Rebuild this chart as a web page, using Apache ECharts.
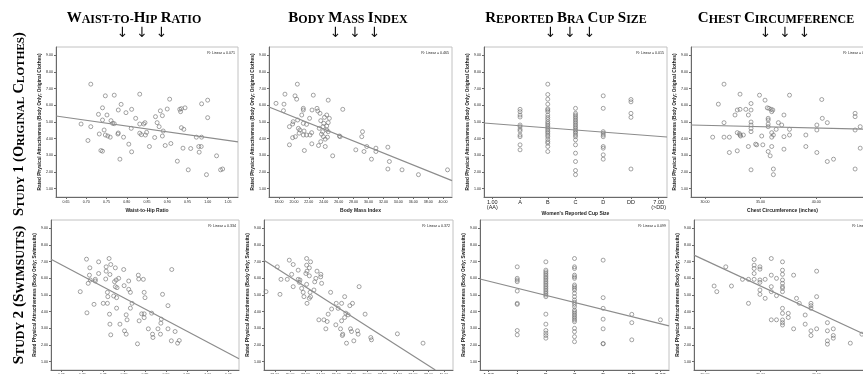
<!DOCTYPE html>
<html>
<head>
<meta charset="utf-8">
<script src="https://cdn.jsdelivr.net/npm/echarts@6/dist/echarts.min.js"></script>
<style>
html, body { margin: 0; padding: 0; background: #fff; }
#chart { width: 863px; height: 374px; }
</style>
</head>
<body>
<div id="chart"></div>
<script>
// tick values
const yTicks = [1, 2, 3, 4, 5, 6, 7, 8, 9];
const whrTicks = [0.65, 0.70, 0.75, 0.80, 0.85, 0.90, 0.95, 1.00, 1.05];
const bmiTicks = [18, 20, 22, 24, 26, 28, 30, 32, 34, 36, 38, 40];
const cupTicks = [1, 2, 3, 4, 5, 6, 7];
const cupLabels = ['1.00\n(AA)', 'A', 'B', 'C', 'D', 'DD', '7.00\n(>DD)'];
const chestTicks = [30, 35, 40, 45];

const xNames = ['Waist-to-Hip Ratio', 'Body Mass Index', "Women's Reported Cup Size", 'Chest Circumference (inches)'];
const yNames = ['Rated Physical Attractiveness (Body Only; Original Clothes)', 'Rated Physical Attractiveness (Body Only; Swimsuits)'];
const r2Orig = ['0.071', '0.465', '0.015', '0.006'];
const r2Swim = ['0.334', '0.372', '0.099', '0.326'];

// study 1, original clothes
const whrOrig = [[0.711,7.27],[0.747,6.57],[0.769,6.61],[0.832,6.67],[0.906,6.37],[0.786,6.06],[0.74,5.85],[0.779,5.72],[0.812,5.76],[0.798,5.56],[0.751,5.42],[0.73,5.46],[0.74,5.12],[0.761,5.08],[0.765,4.92],[0.769,4.9],[0.687,4.88],[0.711,4.72],[0.744,4.52],[0.747,4.22],[0.732,4.28],[0.753,4.16],[0.759,4.09],[0.778,4.28],[0.779,4.34],[0.792,4.09],[0.811,4.62],[0.822,5.22],[0.832,4.88],[0.842,4.88],[0.845,4.96],[0.832,4.33],[0.836,4.24],[0.846,4.22],[0.849,4.38],[0.871,5.32],[0.875,4.96],[0.88,4.72],[0.89,4.46],[0.883,5.67],[0.888,5.38],[0.9,5.78],[0.869,4.07],[0.888,4.16],[0.704,3.89],[0.805,3.67],[0.856,3.53],[0.895,3.59],[0.909,3.71],[0.736,3.29],[0.74,3.25],[0.812,3.21],[0.783,2.77],[0.931,5.76],[0.935,5.8],[0.944,5.85],[0.933,5.62],[0.935,4.66],[0.941,4.56],[0.985,6.09],[1.0,6.31],[1.0,5.26],[0.972,4.09],[0.985,4.09],[0.978,3.53],[0.984,3.53],[0.958,3.41],[0.939,3.43],[0.979,3.19],[0.925,2.65],[0.952,2.13],[0.997,1.84],[1.022,2.97],[1.032,2.13],[1.037,2.18]];
const bmiOrig = [[20.46,7.27],[18.8,6.67],[20.15,6.57],[20.37,6.37],[22.6,6.61],[24.6,6.31],[17.6,6.12],[18.67,6.07],[21.26,5.82],[21.26,5.72],[22.43,5.72],[23.1,5.82],[23.2,5.66],[23.5,5.52],[18.6,5.68],[26.55,5.76],[21.05,5.42],[24.4,5.42],[24.75,5.22],[22.1,5.22],[24.1,5.28],[19.9,5.02],[20.5,5.12],[21.26,4.92],[21.7,4.86],[23.6,5.08],[24.0,4.92],[24.6,4.96],[24.4,4.76],[23.9,4.72],[19.83,4.88],[19.4,4.72],[20.6,4.62],[20.8,4.52],[21.36,4.46],[23.4,4.62],[23.85,4.42],[24.4,4.52],[24.6,4.42],[20.7,4.33],[21.26,4.22],[21.7,4.22],[22.16,4.22],[22.38,4.36],[20.2,4.12],[19.83,4.06],[23.7,4.27],[23.95,4.12],[24.2,3.97],[24.5,4.09],[26.1,4.16],[26.2,4.12],[23.6,3.82],[19.4,3.63],[22.4,3.69],[23.3,3.59],[24.2,3.53],[21.4,3.29],[25.2,2.97],[29.2,4.42],[29.1,4.12],[28.3,3.33],[29.4,3.23],[29.77,3.53],[31.0,3.43],[31.0,3.23],[30.4,2.77],[32.6,3.49],[32.8,2.63],[32.6,2.18],[34.5,2.13],[36.7,1.84],[40.6,2.13]];
const cupOrig = [[2,5.76],[2,5.62],[2,5.42],[2,5.3],[2,4.82],[2,4.72],[2,4.56],[2,4.46],[2,4.22],[2,4.12],[2,3.63],[2,3.33],
  [3,7.27],[3,6.65],[3,6.37],[3,6.07],[3,5.79],[3,5.72],[3,5.62],[3,5.42],[3,5.28],[3,5.16],[3,5.02],[3,4.92],[3,4.82],[3,4.72],[3,4.62],[3,4.52],[3,4.42],[3,4.33],[3,4.22],[3,4.12],[3,3.97],[3,3.82],[3,3.73],[3,3.53],[3,3.23],
  [4,5.82],[4,5.52],[4,5.42],[4,5.32],[4,5.22],[4,5.12],[4,5.02],[4,4.92],[4,4.82],[4,4.72],[4,4.62],[4,4.52],[4,4.42],[4,4.33],[4,4.22],[4,4.12],[4,3.93],[4,3.63],[4,3.13],[4,2.63],[4,2.09],[4,1.84],
  [5,6.57],[5,5.82],[5,4.42],[5,4.33],[5,4.22],[5,4.12],[5,3.53],[5,3.43],[5,3.03],[5,2.77],
  [6,6.35],[6,6.21],[6,5.52],[6,5.28],[6,2.18]];
const chestOrig = [[30.69,4.09],[31.2,6.07],[31.71,7.27],[31.71,4.09],[31.71,4.96],[32.19,4.09],[32.19,3.17],[32.7,5.42],[32.9,5.72],[32.9,4.36],[32.9,3.27],[33.15,6.67],[33.15,5.76],[33.1,4.3],[33.15,4.22],[33.2,4.16],[33.45,4.22],[33.67,5.76],[33.9,5.42],[33.9,3.53],[34.14,6.11],[34.14,5.72],[34.14,5.0],[34.14,4.82],[34.14,4.62],[34.14,4.42],[34.14,2.13],[34.55,3.67],[34.65,3.63],[34.9,6.61],[35.1,4.16],[35.2,3.63],[35.4,6.31],[35.6,5.85],[35.75,5.82],[35.68,5.22],[35.68,5.12],[35.68,4.88],[35.68,4.72],[35.95,5.76],[36.1,5.72],[36.0,5.62],[36.0,4.36],[36.0,4.09],[36.0,3.53],[35.68,3.23],[35.86,2.97],[36.15,2.18],[36.15,1.84],[36.15,4.22],[36.4,4.56],[36.6,4.96],[36.9,4.82],[37.1,5.42],[37.1,4.12],[37.1,3.37],[37.6,6.61],[37.6,4.56],[37.6,4.22],[39.07,4.22],[39.07,3.53],[40.06,4.82],[40.06,4.52],[40.06,3.17],[40.5,6.35],[40.55,5.22],[41.0,4.96],[41.0,2.63],[41.56,2.77],[43.5,5.52],[43.5,5.32],[43.5,2.18],[43.96,4.72],[43.96,3.43],[43.5,4.52]];

// study 2, swimsuits
const whrSwim = [[0.71,7.15],[0.764,7.19],[0.768,6.83],[0.739,6.99],[0.718,6.63],[0.779,6.63],[0.757,6.69],[0.757,6.43],[0.799,6.53],[0.739,6.29],[0.766,6.23],[0.717,6.19],[0.756,5.96],[0.731,5.94],[0.731,5.84],[0.719,5.9],[0.787,6.0],[0.781,5.9],[0.811,5.84],[0.834,6.19],[0.835,5.96],[0.846,5.94],[0.714,5.7],[0.777,5.8],[0.779,5.5],[0.783,5.44],[0.8,5.56],[0.811,5.34],[0.815,5.16],[0.695,5.2],[0.76,5.16],[0.848,5.16],[0.761,4.9],[0.775,4.94],[0.782,4.84],[0.85,4.84],[0.892,5.04],[0.914,6.53],[0.75,4.5],[0.76,4.5],[0.728,4.44],[0.819,4.5],[0.905,4.36],[0.711,3.93],[0.782,4.21],[0.815,4.21],[0.765,3.85],[0.805,3.81],[0.842,3.87],[0.848,3.87],[0.866,3.91],[0.848,3.64],[0.807,3.51],[0.836,3.45],[0.889,3.55],[0.888,3.31],[0.766,3.25],[0.79,3.25],[0.858,2.97],[0.881,2.97],[0.905,2.97],[0.801,2.85],[0.805,2.65],[0.868,2.65],[0.869,2.45],[0.887,2.65],[0.768,2.61],[0.922,2.81],[0.913,2.25],[0.932,2.27],[0.928,2.11],[0.832,2.07]];
const bmiSwim = [[16.86,5.2],[18.33,6.69],[18.81,5.94],[18.68,5.04],[19.89,7.09],[19.63,5.94],[20.2,6.24],[20.4,6.83],[20.4,5.5],[21.05,6.49],[21.05,5.94],[21.28,5.9],[21.2,5.76],[21.5,5.4],[21.7,5.16],[21.8,4.9],[22.15,7.19],[22.15,6.79],[22.2,6.43],[22.05,6.29],[22.5,6.63],[22.66,6.99],[22.5,6.15],[22.15,5.64],[22.2,4.5],[22.5,4.8],[22.66,4.9],[22.6,5.16],[23.1,5.3],[23.2,5.79],[23.35,6.0],[23.5,6.43],[24.0,6.24],[23.98,6.09],[24.1,5.7],[23.74,3.51],[24.4,3.51],[24.65,2.97],[24.95,3.85],[24.82,3.41],[25.27,5.16],[25.4,4.16],[26.0,4.5],[25.95,3.21],[26.25,4.2],[26.56,2.97],[26.7,4.5],[26.7,3.45],[26.8,2.57],[26.85,2.65],[27.1,4.9],[27.1,3.65],[27.25,3.91],[27.34,2.11],[27.55,3.81],[27.77,4.36],[27.86,2.97],[27.99,2.81],[28.12,4.5],[28.29,2.25],[28.77,2.85],[28.85,2.65],[28.98,5.5],[29.76,3.85],[30.5,2.45],[30.59,2.31],[33.96,2.67],[37.3,2.11]];
const cupSwim = [[2,6.69],[2,6.0],[2,5.9],[2,5.8],[2,5.24],[2,4.5],[2,4.44],[2,2.87],[2,2.61],
  [3,6.99],[3,6.49],[3,6.39],[3,6.29],[3,6.19],[3,6.09],[3,6.0],[3,5.9],[3,5.8],[3,5.7],[3,5.6],[3,5.5],[3,5.4],[3,5.3],[3,5.2],[3,5.1],[3,5.0],[3,4.9],[3,3.85],[3,3.25],[3,2.87],[3,2.71],[3,2.57],[3,2.41],
  [4,7.19],[4,6.69],[4,6.59],[4,6.19],[4,6.09],[4,6.0],[4,5.6],[4,5.5],[4,5.4],[4,5.3],[4,5.1],[4,4.9],[4,4.7],[4,4.56],[4,4.44],[4,4.3],[4,4.1],[4,4.0],[4,3.9],[4,3.8],[4,3.7],[4,3.6],[4,3.5],[4,3.4],[4,3.0],[4,2.8],[4,2.5],[4,2.2],
  [5,7.09],[5,4.84],[5,4.2],[5,3.55],[5,2.97],[5,2.09],[5,2.07],
  [6,3.84],[6,3.34],[6,2.31],
  [7,3.51]];
const chestSwim = [[30.81,5.54],[31.05,5.2],[31.86,6.69],[32.37,5.54],[33.36,5.94],[33.9,5.94],[33.9,4.5],[34.41,7.13],[34.41,6.79],[34.41,6.59],[34.41,6.29],[34.41,5.94],[34.93,6.69],[34.93,6.55],[34.93,5.9],[34.93,5.76],[34.93,5.3],[34.93,5.04],[35.4,5.94],[35.4,4.8],[35.95,7.19],[35.95,6.19],[35.95,5.5],[35.95,5.2],[35.95,3.51],[36.42,6.0],[36.42,4.96],[36.42,3.51],[36.96,6.99],[36.96,6.49],[36.96,6.24],[36.96,5.9],[36.96,5.7],[36.96,5.5],[36.96,5.4],[36.96,5.2],[36.96,4.2],[36.96,3.9],[36.96,3.5],[36.96,3.34],[36.96,3.2],[37.48,3.9],[37.48,3.65],[37.96,6.19],[37.96,2.97],[38.22,4.8],[38.47,4.5],[39.0,3.8],[39.0,3.25],[39.52,4.5],[39.52,4.36],[39.52,4.2],[39.52,2.85],[39.52,2.57],[40.03,6.43],[40.03,4.9],[40.03,2.97],[41.0,3.34],[41.0,2.85],[41.0,2.25],[41.0,2.05],[41.53,2.97],[41.53,2.57],[41.53,2.41],[43.06,2.11],[44.1,2.65]];

// linear fit lines, end points
const fitOrig = [[[0.625,5.36],[1.075,3.81]], [[16.66,5.90],[41.2,1.48]], [[0.7,4.94],[7.3,4.10]], [[28.74,4.82],[45.2,4.56]]];
const fitSwim = [[[0.625,7.15],[1.075,1.18]], [[16.6,7.09],[38.9,0.5]], [[0.7,5.96],[7.3,3.15]], [[29.0,7.39],[46.0,2.12]]];

const scatterData = [[whrOrig, bmiOrig, cupOrig, chestOrig], [whrSwim, bmiSwim, cupSwim, chestSwim]];
const fitData = [fitOrig, fitSwim];
const r2Text = [r2Orig, r2Swim];
const xTicks = [whrTicks, bmiTicks, cupTicks, chestTicks];

// layout
const gridLeft = [[56, 269, 484, 691], [51, 264, 480, 694]];
const gridWidth = [[182, 183, 183, 183], [188, 189, 189, 189]];
const gridTop = [47, 220];
const gridH = 150;
const xRange = [
  [[0.625, 1.075], [16.66, 41.2], [0.7, 7.3], [28.74, 45.2]],
  [[0.625, 1.075], [16.6, 41.2], [0.7, 7.3], [29.0, 46.0]]
];

const chart = echarts.init(document.getElementById('chart'), null, { renderer: 'canvas' });

const grids = [], xAxes = [], yAxes = [], series = [], graphics = [];
const tickFont = 'Liberation Sans';

for (let r = 0; r < 2; r++) {
  for (let c = 0; c < 4; c++) {
    const i = grids.length;
    grids.push({
      left: gridLeft[r][c], top: gridTop[r], width: gridWidth[r][c], height: gridH,
      show: true, borderColor: '#c2c2c2', borderWidth: 1, backgroundColor: '#fff',
      containLabel: false, outerBoundsMode: 'none'
    });
    const isCup = c === 2;
    xAxes.push({
      type: 'value', gridIndex: i,
      min: xRange[r][c][0], max: xRange[r][c][1],
      splitLine: { show: false },
      axisLine: { show: true, onZero: false, lineStyle: { color: '#6a6a6a', width: 1 } },
      axisTick: { show: true, customValues: xTicks[c], length: 2, lineStyle: { color: '#6a6a6a' } },
      axisLabel: {
        customValues: xTicks[c], margin: 3, color: '#222',
        fontFamily: tickFont, fontSize: isCup ? 5.5 : 3.6, lineHeight: isCup ? 5 : 4,
        formatter: v => isCup ? cupLabels[cupTicks.indexOf(v)] : v.toFixed(2)
      },
      name: xNames[c], nameLocation: 'middle', nameGap: 11,
      nameTextStyle: { fontFamily: tickFont, fontWeight: 'bold', fontSize: 5, color: '#222' }
    });
    yAxes.push({
      type: 'value', gridIndex: i, min: 0.5, max: 9.5,
      splitLine: { show: false },
      axisLine: { show: true, onZero: false, lineStyle: { color: '#6a6a6a', width: 1 } },
      axisTick: { show: true, customValues: yTicks, length: 2, lineStyle: { color: '#6a6a6a' } },
      axisLabel: {
        customValues: yTicks, margin: 3, color: '#222',
        fontFamily: tickFont, fontSize: 3.6,
        formatter: v => v.toFixed(2)
      },
      name: yNames[r], nameLocation: 'middle', nameGap: 14, nameRotate: 90,
      nameTextStyle: { fontFamily: tickFont, fontWeight: 'bold', fontSize: 4.8, color: '#222' }
    });
    series.push({
      type: 'scatter', xAxisIndex: i, yAxisIndex: i,
      data: scatterData[r][c], symbol: 'circle', symbolSize: 4,
      itemStyle: { color: 'rgba(0,0,0,0)', borderColor: '#707070', borderWidth: 0.8 },
      silent: true, animation: false
    });
    series.push({
      type: 'line', xAxisIndex: i, yAxisIndex: i,
      data: fitData[r][c], symbol: 'none', clip: true,
      lineStyle: { color: '#8c8c8c', width: 1.2 },
      silent: true, animation: false
    });
    graphics.push({
      type: 'text', silent: true,
      x: gridLeft[r][c] + gridWidth[r][c] - 3, y: gridTop[r] + 6,
      style: {
        text: 'R² Linear = ' + r2Text[r][c], font: '3.6px "Liberation Sans"', fill: '#222',
        align: 'right', verticalAlign: 'middle', textAlign: 'right', textVerticalAlign: 'middle'
      }
    });
  }
}

// column titles in small caps
const big = { font: 'bold 15px "Liberation Serif"', verticalAlign: 'bottom' };
const small = { font: 'bold 12px "Liberation Serif"', verticalAlign: 'bottom' };
const titles = [
  '{b|W}{s|AIST-TO-}{b|H}{s|IP} {b|R}{s|ATIO}',
  '{b|B}{s|ODY} {b|M}{s|ASS} {b|I}{s|NDEX}',
  '{b|R}{s|EPORTED} {b|B}{s|RA} {b|C}{s|UP} {b|S}{s|IZE}',
  '{b|C}{s|HEST} {b|C}{s|IRCUMFERENCE}'
];
const titleX = [134, 348, 566, 776];
const arrowX = [142, 355, 570, 785];
titles.forEach((t, c) => {
  graphics.push({
    type: 'text', silent: true, x: titleX[c], y: 18,
    style: { text: t, rich: { b: big, s: small }, fill: '#000', align: 'center', verticalAlign: 'middle', textAlign: 'center', textVerticalAlign: 'middle' }
  });
  [-19.5, 0, 19.5].forEach(dx => {
    graphics.push({
      type: 'text', silent: true, x: arrowX[c] + dx, y: 33,
      style: { text: '↓', font: '14px "DejaVu Sans"', fill: '#111', align: 'center', verticalAlign: 'middle', textAlign: 'center', textVerticalAlign: 'middle' }
    });
  });
});

// row labels
const rowStyles = [
  { b: { font: 'bold 14.5px "Liberation Serif"', verticalAlign: 'bottom' }, s: { font: 'bold 11.2px "Liberation Serif"', verticalAlign: 'bottom' } },
  { b: { font: 'bold 15.3px "Liberation Serif"', verticalAlign: 'bottom' }, s: { font: 'bold 12px "Liberation Serif"', verticalAlign: 'bottom' } }
];
const rowLabels = [
  '{b|S}{s|TUDY} {b|1 (O}{s|RIGINAL} {b|C}{s|LOTHES}{b|)}',
  '{b|S}{s|TUDY} {b|2 (S}{s|WIMSUITS}{b|)}'
];
const rowY = [124, 295];
rowLabels.forEach((t, r) => {
  graphics.push({
    type: 'text', silent: true, x: 19, y: rowY[r], rotation: Math.PI / 2,
    style: { text: t, rich: rowStyles[r], fill: '#000', align: 'center', verticalAlign: 'middle', textAlign: 'center', textVerticalAlign: 'middle' }
  });
});

chart.setOption({
  backgroundColor: '#fff',
  animation: false,
  grid: grids,
  xAxis: xAxes,
  yAxis: yAxes,
  series: series,
  graphic: { elements: graphics }
});
</script>
</body>
</html>
